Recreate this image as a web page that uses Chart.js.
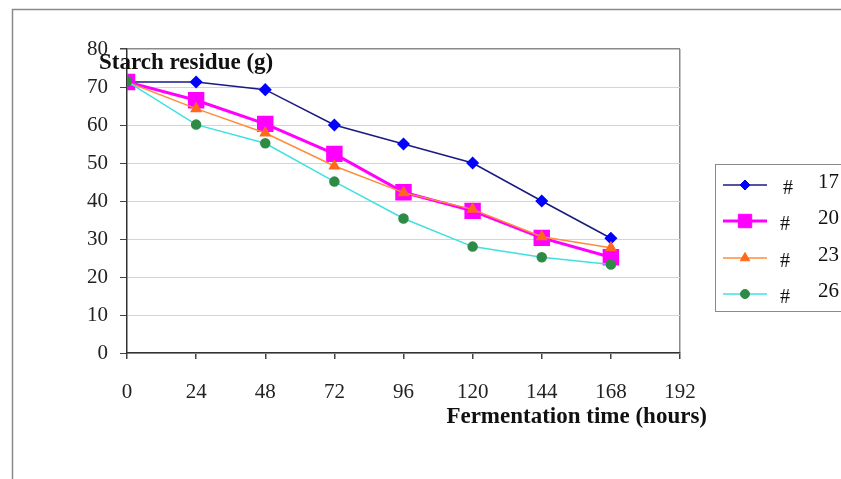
<!DOCTYPE html>
<html>
<head>
<meta charset="utf-8">
<title>Starch residue</title>
<script src="https://cdn.jsdelivr.net/npm/chart.js@4"></script>
<style>
  html, body { margin: 0; padding: 0; background: #fff; overflow: hidden; }
  #wrap { width: 841px; height: 479px; position: relative; }
</style>
</head>
<body>
<div id="wrap"><canvas id="chart" width="841" height="479"></canvas></div>
<script>
// Data
const hours = [0, 24, 48, 72, 96, 120, 144, 168];
const xTicks = [0, 24, 48, 72, 96, 120, 144, 168, 192];
const yTicks = [0, 10, 20, 30, 40, 50, 60, 70, 80];
const seriesLabels = ['# 17', '# 20', '# 23', '# 26'];
const residue17 = [71.3, 71.3, 69.3, 60.0, 55.0, 50.0, 40.0, 30.2];
const residue20 = [71.3, 66.5, 60.3, 52.4, 42.3, 37.4, 30.3, 25.2];
const residue23 = [71.3, 64.3, 57.9, 49.2, 42.2, 37.8, 30.6, 27.7];
const residue26 = [71.5, 60.1, 55.2, 45.1, 35.4, 28.0, 25.2, 23.3];

const SERIF = '"Liberation Serif", "Times New Roman", serif';

function toPoints(values) {
    return hours.map((h, i) => ({ x: h, y: values[i] }));
}

// Frame, axis titles and legend box
const decorations = {
    id: 'decorations',
    beforeDraw(chart) {
        const ctx = chart.ctx;
        ctx.save();
        ctx.fillStyle = '#fff';
        ctx.fillRect(0, 0, chart.width, chart.height);
        ctx.strokeStyle = '#8a8a8a';
        ctx.lineWidth = 1.5;
        ctx.strokeRect(12.5, 9.5, 900, 600);
        ctx.restore();
    },
    afterDraw(chart) {
        const ctx = chart.ctx;
        ctx.save();
        ctx.fillStyle = '#111';
        ctx.textBaseline = 'middle';
        ctx.font = 'bold 23px ' + SERIF;
        ctx.textAlign = 'left';
        ctx.fillText('Starch residue (g)', 99, 63);
        ctx.textAlign = 'right';
        ctx.fillText('Fermentation time (hours)', 707, 417);

        // legend
        ctx.strokeStyle = '#8a8a8a';
        ctx.lineWidth = 1;
        ctx.strokeRect(715.5, 164.5, 200, 147);
        const rows = [185, 221, 258, 294];
        chart.data.datasets.forEach((ds, i) => {
            const y = rows[i];
            ctx.strokeStyle = ds.borderColor;
            ctx.lineWidth = ds.borderWidth;
            ctx.beginPath();
            ctx.moveTo(723, y);
            ctx.lineTo(767, y);
            ctx.stroke();
            ctx.fillStyle = ds.pointBackgroundColor;
            ctx.strokeStyle = ds.pointBorderColor;
            ctx.lineWidth = 1;
            Chart.helpers.drawPoint(ctx, {
                pointStyle: ds.pointStyle,
                radius: ds.legendRadius,
                rotation: 0,
                borderWidth: 1
            }, 745, y);
            const parts = ds.label.split(' ');
            ctx.fillStyle = '#111';
            ctx.textAlign = 'left';
            ctx.font = '20px ' + SERIF;
            ctx.fillText(parts[0], i === 0 ? 783 : 780, y + 4);
            ctx.font = '21px ' + SERIF;
            ctx.fillText(parts[1], 818, y - 3);
        });
        ctx.restore();
    }
};

new Chart(document.getElementById('chart'), {
    type: 'line',
    data: {
        datasets: [
            {
                label: seriesLabels[0],
                data: toPoints(residue17),
                borderColor: '#1a1a80',
                borderWidth: 1.5,
                pointStyle: 'rectRot',
                pointRadius: 5.5,
                legendRadius: 5,
                pointBackgroundColor: '#0000ff',
                pointBorderColor: '#0000ff',
                order: 4
            },
            {
                label: seriesLabels[1],
                data: toPoints(residue20),
                borderColor: '#ff00ff',
                borderWidth: 3,
                pointStyle: 'rect',
                pointRadius: 9.5,
                legendRadius: 9.5,
                pointBackgroundColor: '#ff00ff',
                pointBorderColor: '#ff00ff',
                order: 3
            },
            {
                label: seriesLabels[2],
                data: toPoints(residue23),
                borderColor: '#ff8c3a',
                borderWidth: 1.5,
                pointStyle: 'triangle',
                pointRadius: 5.5,
                legendRadius: 5.5,
                pointBackgroundColor: '#ff6a1a',
                pointBorderColor: '#ff6a1a',
                order: 2
            },
            {
                label: seriesLabels[3],
                data: toPoints(residue26),
                borderColor: '#3fe0e0',
                borderWidth: 1.5,
                pointStyle: 'circle',
                pointRadius: 4.5,
                legendRadius: 4.5,
                pointBackgroundColor: '#2e8b45',
                pointBorderColor: '#2e8b45',
                order: 1
            }
        ]
    },
    options: {
        responsive: false,
        animation: false,
        layout: { padding: { top: 49, right: 161, bottom: 0, left: 0 } },
        plugins: {
            legend: { display: false },
            tooltip: { enabled: false },
            title: { display: false }
        },
        elements: { line: { tension: 0 } },
        scales: {
            x: {
                type: 'linear',
                min: xTicks[0],
                max: xTicks[xTicks.length - 1],
                afterBuildTicks: axis => { axis.ticks = xTicks.map(v => ({ value: v })); },
                afterFit: axis => { axis.height = 126; },
                border: { color: '#333', width: 1.5 },
                grid: {
                    color: c => (c.tick && c.tick.value === 192 ? '#8a8a8a' : 'rgba(0,0,0,0)'),
                    lineWidth: 1.5,
                    tickColor: '#444',
                    tickLength: 6,
                    drawOnChartArea: true
                },
                ticks: {
                    color: '#222',
                    padding: 21,
                    maxRotation: 0,
                    font: { family: SERIF, size: 21 }
                }
            },
            y: {
                min: yTicks[0],
                max: yTicks[yTicks.length - 1],
                afterBuildTicks: axis => { axis.ticks = yTicks.map(v => ({ value: v })); },
                afterFit: axis => { axis.width = 127; },
                border: { color: '#333', width: 1.5 },
                grid: {
                    color: c => (c.tick && c.tick.value === 80 ? '#8a8a8a' : '#d4d4d4'),
                    lineWidth: c => (c.tick && c.tick.value === 80 ? 1.5 : 1),
                    tickColor: '#444',
                    tickLength: 7
                },
                ticks: {
                    color: '#222',
                    padding: 12,
                    font: { family: SERIF, size: 21 }
                }
            }
        }
    },
    plugins: [decorations]
});
</script>
</body>
</html>
